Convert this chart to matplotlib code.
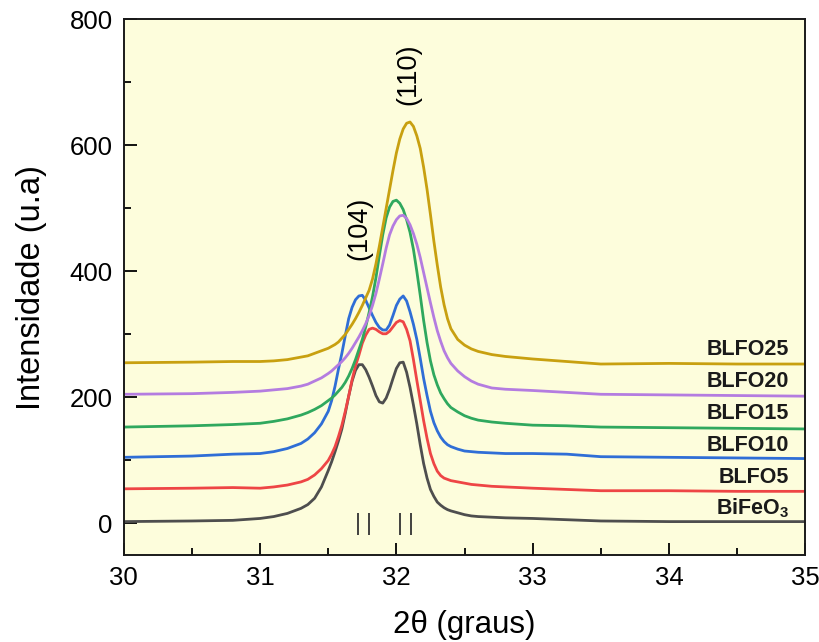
import matplotlib
matplotlib.use("Agg")
import matplotlib.pyplot as plt
from matplotlib.ticker import MultipleLocator

plt.rcParams['font.family'] = ['Liberation Sans', 'DejaVu Sans']
plt.rcParams['mathtext.fontset'] = 'custom'
plt.rcParams['mathtext.rm'] = 'Liberation Sans'
plt.rcParams['mathtext.bf'] = 'Liberation Sans:bold'

# 2-theta sampling (degrees)
two_theta = [30.0, 30.5, 30.8, 31.0, 31.1, 31.2, 31.3, 31.35, 31.4, 31.45,
             31.5, 31.525, 31.55, 31.575, 31.6, 31.625, 31.65, 31.675, 31.7, 31.725,
             31.75, 31.775, 31.8, 31.825, 31.85, 31.875, 31.9, 31.925, 31.95, 31.975,
             32.0, 32.025, 32.05, 32.075, 32.1, 32.125, 32.15, 32.175, 32.2, 32.225,
             32.25, 32.275, 32.3, 32.325, 32.35, 32.375, 32.4,
             32.45, 32.5, 32.55, 32.6, 32.7, 32.8, 33.0, 33.25, 33.5, 34.0, 34.5, 35.0]

# Intensities (a.u.), each pattern already offset vertically
bifeo3 = [3, 4, 5, 8, 11, 16, 24, 30, 40, 58,
          84, 98, 114, 131, 150, 175, 202, 226, 243, 252,
          252, 244, 232, 218, 203, 193, 191, 199, 213, 230,
          246, 255, 256, 240, 216, 188, 158, 125, 95, 72,
          54, 43, 34, 29, 25, 22, 20,
          17, 14, 12, 11, 10, 9, 8, 6, 4, 3, 3, 3]
blfo5 = [55, 56, 57, 56, 58, 61, 66, 70, 77, 87,
         100, 110, 122, 138, 156, 178, 202, 228, 250, 267,
         286, 299, 308, 310, 308, 304, 301, 301, 305, 312,
         319, 322, 320, 308, 290, 260, 227, 195, 163, 135,
         111, 95, 83, 76, 72, 70, 68,
         66, 64, 62, 61, 59, 58, 56, 54, 52, 52, 51, 51]
blfo10 = [105, 107, 110, 111, 114, 119, 127, 134, 144, 158,
          178, 195, 218, 245, 270, 298, 325, 343, 355, 361,
          362, 354, 342, 330, 319, 311, 307, 307, 315, 330,
          346, 356, 361, 353, 336, 316, 292, 262, 230, 203,
          178, 160, 147, 137, 130, 125, 122,
          118, 115, 114, 113, 112, 111, 111, 110, 106, 105, 104, 103]
blfo15 = [153, 155, 157, 159, 162, 166, 172, 176, 181, 187,
          195, 199, 204, 210, 216, 224, 234, 246, 260, 276,
          292, 312, 335, 360, 390, 425, 458, 485, 502, 511,
          513, 508, 498, 482, 462, 435, 400, 362, 322, 287,
          258, 236, 220, 207, 198, 190, 184,
          177, 171, 167, 164, 161, 159, 156, 155, 153, 152, 151, 150]
blfo20 = [205, 206, 208, 210, 212, 214, 218, 221, 226, 231,
          238, 242, 247, 252, 257, 263, 270, 278, 287, 296,
          306, 317, 330, 346, 365, 388, 412, 437, 458, 472,
          482, 488, 489, 484, 474, 460, 443, 422, 398, 374,
          350, 327, 306, 289, 274, 263, 254,
          242, 233, 226, 221, 215, 213, 211, 208, 205, 204, 203, 202]
blfo25 = [255, 256, 257, 257, 258, 260, 264, 266, 270, 274,
          278, 281, 284, 288, 294, 300, 308, 316, 325, 335,
          346, 358, 370, 388, 412, 440, 470, 500, 530, 560,
          588, 610, 626, 635, 637, 630, 615, 595, 565, 530,
          490, 448, 410, 375, 347, 325, 309,
          292, 283, 277, 273, 268, 265, 261, 257, 253, 254, 253, 253]

series = [bifeo3, blfo5, blfo10, blfo15, blfo20, blfo25]
names = [r'BiFeO$_\mathbf{3}$', 'BLFO5', 'BLFO10', 'BLFO15', 'BLFO20', 'BLFO25']
colors = ['#4e4e4e', '#EE4545', '#2F6ED6', '#2FA85E', '#B47CE0', '#C8A010']
label_y = [14, 64, 115, 165, 216, 267]

# Reference reflection positions (degrees)
ref_positions = [31.72, 31.80, 32.03, 32.11]

# Miller index annotations
hkl_labels = ['(104)', '(110)']
hkl_x = [31.73, 32.09]
hkl_y = [468, 712]

fig = plt.figure(figsize=(8.2, 6.42), dpi=100)
ax = fig.add_axes([0.151, 0.1355, 0.831, 0.8345])
ax.set_facecolor('#FDFDDC')

for ys, c in zip(series, colors):
    ax.plot(two_theta, ys, color=c, lw=2.0, solid_joinstyle='round')

for name, yl in zip(names, label_y):
    ax.text(34.88, yl, name, ha='right', va='baseline', fontsize=15.5,
            fontweight='bold', color='#1a1a1a')

ax.vlines(ref_positions, -19, 16, color='#333333', lw=1.3)

for lab, xx, yy in zip(hkl_labels, hkl_x, hkl_y):
    ax.text(xx, yy, lab, rotation=90, ha='center', va='center', fontsize=19.5)

ax.set_xlim(30, 35)
ax.set_ylim(-50, 800)
ax.xaxis.set_major_locator(MultipleLocator(1))
ax.xaxis.set_minor_locator(MultipleLocator(0.5))
ax.yaxis.set_major_locator(MultipleLocator(200))
ax.yaxis.set_minor_locator(MultipleLocator(100))
ax.tick_params(which='both', direction='in', labelsize=18.5, width=1.3,
               top=False, right=False)
ax.tick_params(which='major', length=9, pad=8)
ax.tick_params(which='minor', length=5)
for sp in ax.spines.values():
    sp.set_linewidth(1.4)
    sp.set_color('#1a1a1a')

ax.set_xlabel('2θ (graus)', fontsize=22.5, labelpad=14)
ax.set_ylabel('Intensidade (u.a)', fontsize=23.5, labelpad=16)

fig.savefig('out.png', dpi=100, facecolor='white')
